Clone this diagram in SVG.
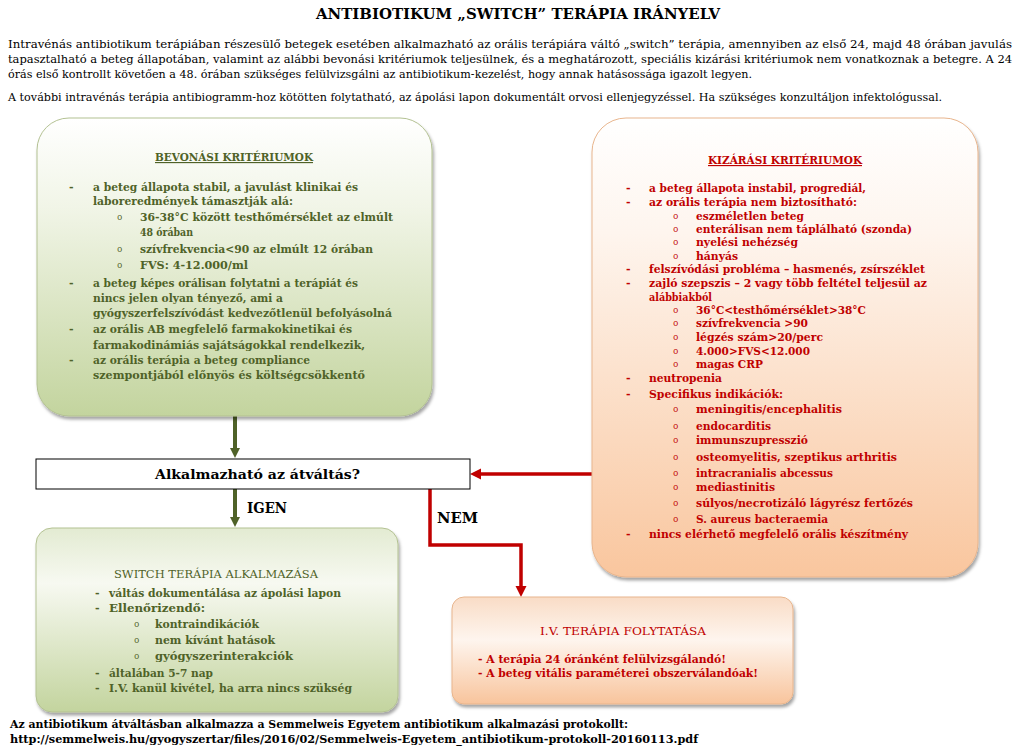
<svg xmlns="http://www.w3.org/2000/svg" width="1024" height="746" viewBox="0 0 1024 746">
<style>
text{font-family:"DejaVu Serif","Liberation Serif",serif;}
.title{font-size:15px;font-weight:bold;fill:#000;}
.intro{font-size:10.8px;fill:#000;}
.g{font-size:11px;font-weight:bold;fill:#4f6228;}
.r{font-size:11px;font-weight:bold;fill:#c00000;}
.gh{font-size:11.5px;font-weight:bold;fill:#4f6228;text-decoration:underline;}
.rh{font-size:11.5px;font-weight:bold;fill:#c00000;text-decoration:underline;}
.gt{font-size:11.5px;fill:#4f6228;}
.rt{font-size:11.5px;fill:#c00000;}
.bo{font-family:"Liberation Mono","DejaVu Sans Mono",monospace;font-size:9px;font-weight:normal;}
.q{font-size:13px;font-weight:bold;fill:#000;}
.lbl{font-size:14px;font-weight:bold;fill:#000;}
.foot{font-size:10.8px;font-weight:bold;fill:#000;}
.gbox{fill:url(#gGrad);stroke:#b3c192;stroke-width:1;filter:url(#sh);}
.pbox{fill:url(#pGrad);stroke:#e8b58d;stroke-width:1;filter:url(#sh);}
.gbox2{fill:url(#gGrad2);stroke:#b3c192;stroke-width:1;filter:url(#sh);}
.pbox2{fill:url(#pGrad2);stroke:#e8b58d;stroke-width:1;filter:url(#sh);}
.garrow{stroke:#4f6228;stroke-width:4;fill:none;marker-end:url(#mg);}
.rarrow{stroke:#c00000;stroke-width:3.5;fill:none;marker-end:url(#mr);}
</style>
<defs>
<linearGradient id="gGrad" x1="0" y1="0" x2="0" y2="1">
<stop offset="0" stop-color="#ffffff"/>
<stop offset="0.3" stop-color="#f1f5e7"/>
<stop offset="1" stop-color="#c3d49e"/>
</linearGradient>
<linearGradient id="pGrad" x1="0" y1="0" x2="0" y2="1">
<stop offset="0" stop-color="#ffffff"/>
<stop offset="0.25" stop-color="#fef5ee"/>
<stop offset="1" stop-color="#f9c69e"/>
</linearGradient>
<linearGradient id="gGrad2" x1="0" y1="0" x2="0" y2="1">
<stop offset="0" stop-color="#e3ebd2"/>
<stop offset="0.3" stop-color="#f7f9f1"/>
<stop offset="1" stop-color="#c3d49e"/>
</linearGradient>
<linearGradient id="pGrad2" x1="0" y1="0" x2="0" y2="1">
<stop offset="0" stop-color="#f9dcc6"/>
<stop offset="0.4" stop-color="#fef5ee"/>
<stop offset="1" stop-color="#f8c49c"/>
</linearGradient>
<filter id="sh" x="-10%" y="-10%" width="125%" height="130%">
<feDropShadow dx="1.5" dy="3" stdDeviation="1.5" flood-color="#000" flood-opacity="0.35"/>
</filter>
<marker id="mg" viewBox="0 0 10 10" refX="0" refY="5" markerUnits="userSpaceOnUse" markerWidth="10" markerHeight="12" orient="auto">
<path d="M0,0 L10,5 L0,10 z" fill="#4f6228"/>
</marker>
<marker id="mr" viewBox="0 0 10 10" refX="0" refY="5" markerUnits="userSpaceOnUse" markerWidth="11" markerHeight="12" orient="auto">
<path d="M0,0 L10,5 L0,10 z" fill="#c00000"/>
</marker>
</defs>
<rect width="1024" height="746" fill="#ffffff"/>

<g id="header">
<text class="title" x="316" y="19" textLength="404" lengthAdjust="spacingAndGlyphs">ANTIBIOTIKUM „SWITCH” TERÁPIA IRÁNYELV</text>
<text class="intro" x="8" y="48" textLength="1004" lengthAdjust="spacingAndGlyphs">Intravénás antibiotikum terápiában részesülő betegek esetében alkalmazható az orális terápiára váltó „switch” terápia, amennyiben az első 24, majd 48 órában javulás</text>
<text class="intro" x="8" y="63" textLength="1004" lengthAdjust="spacingAndGlyphs">tapasztalható a beteg állapotában, valamint az alábbi bevonási kritériumok teljesülnek, és a meghatározott, speciális kizárási kritériumok nem vonatkoznak a betegre. A 24</text>
<text class="intro" x="8" y="78" textLength="744" lengthAdjust="spacingAndGlyphs">órás első kontrollt követően a 48. órában szükséges felülvizsgálni az antibiotikum-kezelést, hogy annak hatásossága igazolt legyen.</text>
<text class="intro" x="8" y="101" textLength="934" lengthAdjust="spacingAndGlyphs">A további intravénás terápia antibiogramm-hoz kötötten folytatható, az ápolási lapon dokumentált orvosi ellenjegyzéssel. Ha szükséges konzultáljon infektológussal.</text>
</g>

<g id="connectors">
<path class="garrow" d="M235,416 V448"/>
<path class="garrow" d="M235,489 V517"/>
<path class="rarrow" d="M592,474 H481"/>
<path class="rarrow" d="M430,489 V545 H521 V586"/>
<text class="lbl" x="247" y="513" textLength="40" lengthAdjust="spacingAndGlyphs">IGEN</text>
<text class="lbl" x="437" y="523" textLength="41" lengthAdjust="spacingAndGlyphs">NEM</text>
</g>

<g id="bevonasi">
<rect class="gbox" x="37" y="118" width="395" height="298" rx="32" ry="32"/>
<text class="gh" x="155" y="161" textLength="158" lengthAdjust="spacingAndGlyphs">BEVONÁSI KRITÉRIUMOK</text>
<g class="g">
<text x="69" y="191">-</text>
<text x="93" y="191" textLength="265" lengthAdjust="spacingAndGlyphs">a beteg állapota stabil, a javulást klinikai és</text>
<text x="93" y="205" textLength="200" lengthAdjust="spacingAndGlyphs">laboreredmények támasztják alá:</text>
<text class="bo" x="117" y="220">o</text>
<text x="140" y="221" textLength="253" lengthAdjust="spacingAndGlyphs">36-38°C között testhőmérséklet az elmúlt</text>
<text x="140" y="236" textLength="53" lengthAdjust="spacingAndGlyphs">48 órában</text>
<text class="bo" x="117" y="252">o</text>
<text x="140" y="253" textLength="233" lengthAdjust="spacingAndGlyphs">szívfrekvencia&lt;90 az elmúlt 12 órában</text>
<text class="bo" x="117" y="268">o</text>
<text x="140" y="269" textLength="108" lengthAdjust="spacingAndGlyphs">FVS: 4-12.000/ml</text>
<text x="69" y="287">-</text>
<text x="93" y="287" textLength="265" lengthAdjust="spacingAndGlyphs">a beteg képes orálisan folytatni a terápiát és</text>
<text x="93" y="302" textLength="190" lengthAdjust="spacingAndGlyphs">nincs jelen olyan tényező, ami a</text>
<text x="93" y="317" textLength="299" lengthAdjust="spacingAndGlyphs">gyógyszerfelszívódást kedvezőtlenül befolyásolná</text>
<text x="69" y="333">-</text>
<text x="93" y="333" textLength="259" lengthAdjust="spacingAndGlyphs">az orális AB megfelelő farmakokinetikai és</text>
<text x="93" y="349" textLength="272" lengthAdjust="spacingAndGlyphs">farmakodinámiás sajátságokkal rendelkezik,</text>
<text x="69" y="364">-</text>
<text x="93" y="364" textLength="217" lengthAdjust="spacingAndGlyphs">az orális terápia a beteg compliance</text>
<text x="93" y="379" textLength="272" lengthAdjust="spacingAndGlyphs">szempontjából előnyös és költségcsökkentő</text>
</g>
</g>

<g id="kizarasi">
<rect class="pbox" x="592" y="118" width="386" height="459" rx="34" ry="34"/>
<text class="rh" x="708" y="164" textLength="154" lengthAdjust="spacingAndGlyphs">KIZÁRÁSI KRITÉRIUMOK</text>
<g class="r">
<text x="626" y="192">-</text>
<text x="649" y="192" textLength="217" lengthAdjust="spacingAndGlyphs">a beteg állapota instabil, progrediál,</text>
<text x="626" y="206">-</text>
<text x="649" y="206" textLength="208" lengthAdjust="spacingAndGlyphs">az orális terápia nem biztosítható:</text>
<text class="bo" x="673" y="219">o</text>
<text x="696" y="220" textLength="108" lengthAdjust="spacingAndGlyphs">eszméletlen beteg</text>
<text class="bo" x="673" y="232">o</text>
<text x="696" y="233" textLength="216" lengthAdjust="spacingAndGlyphs">enterálisan nem táplálható (szonda)</text>
<text class="bo" x="673" y="245">o</text>
<text x="696" y="246" textLength="102" lengthAdjust="spacingAndGlyphs">nyelési nehézség</text>
<text class="bo" x="673" y="259">o</text>
<text x="696" y="260" textLength="42" lengthAdjust="spacingAndGlyphs">hányás</text>
<text x="626" y="273">-</text>
<text x="649" y="273" textLength="276" lengthAdjust="spacingAndGlyphs">felszívódási probléma – hasmenés, zsírszéklet</text>
<text x="626" y="287">-</text>
<text x="649" y="287" textLength="278" lengthAdjust="spacingAndGlyphs">zajló szepszis – 2 vagy több feltétel teljesül az</text>
<text x="649" y="301" textLength="63" lengthAdjust="spacingAndGlyphs">alábbiakból</text>
<text class="bo" x="673" y="313">o</text>
<text x="696" y="314" textLength="170" lengthAdjust="spacingAndGlyphs">36°C&lt;testhőmérséklet&gt;38°C</text>
<text class="bo" x="673" y="326">o</text>
<text x="696" y="327" textLength="112" lengthAdjust="spacingAndGlyphs">szívfrekvencia &gt;90</text>
<text class="bo" x="673" y="340">o</text>
<text x="696" y="341" textLength="127" lengthAdjust="spacingAndGlyphs">légzés szám&gt;20/perc</text>
<text class="bo" x="673" y="354">o</text>
<text x="696" y="355" textLength="114" lengthAdjust="spacingAndGlyphs">4.000&gt;FVS&lt;12.000</text>
<text class="bo" x="673" y="367">o</text>
<text x="696" y="368" textLength="67" lengthAdjust="spacingAndGlyphs">magas CRP</text>
<text x="626" y="382">-</text>
<text x="649" y="382" textLength="73" lengthAdjust="spacingAndGlyphs">neutropenia</text>
<text x="626" y="398">-</text>
<text x="649" y="398" textLength="134" lengthAdjust="spacingAndGlyphs">Specifikus indikációk:</text>
<text class="bo" x="673" y="412">o</text>
<text x="696" y="413" textLength="146" lengthAdjust="spacingAndGlyphs">meningitis/encephalitis</text>
<text class="bo" x="673" y="429">o</text>
<text x="696" y="430" textLength="75" lengthAdjust="spacingAndGlyphs">endocarditis</text>
<text class="bo" x="673" y="443">o</text>
<text x="696" y="444" textLength="112" lengthAdjust="spacingAndGlyphs">immunszupresszió</text>
<text class="bo" x="673" y="460">o</text>
<text x="696" y="461" textLength="201" lengthAdjust="spacingAndGlyphs">osteomyelitis, szeptikus arthritis</text>
<text class="bo" x="673" y="476">o</text>
<text x="696" y="477" textLength="137" lengthAdjust="spacingAndGlyphs">intracranialis abcessus</text>
<text class="bo" x="673" y="490">o</text>
<text x="696" y="491" textLength="79" lengthAdjust="spacingAndGlyphs">mediastinitis</text>
<text class="bo" x="673" y="506">o</text>
<text x="696" y="507" textLength="217" lengthAdjust="spacingAndGlyphs">súlyos/necrotizáló lágyrész fertőzés</text>
<text class="bo" x="673" y="522">o</text>
<text x="696" y="523" textLength="132" lengthAdjust="spacingAndGlyphs">S. aureus bacteraemia</text>
<text x="626" y="538">-</text>
<text x="649" y="538" textLength="259" lengthAdjust="spacingAndGlyphs">nincs elérhető megfelelő orális készítmény</text>
</g>
</g>

<g id="dontes">
<rect x="36" y="459" width="434" height="30" fill="#ffffff" stroke="#000" stroke-width="1"/>
<text class="q" x="155" y="479" textLength="205" lengthAdjust="spacingAndGlyphs">Alkalmazható az átváltás?</text>
</g>

<g id="switch">
<rect class="gbox2" x="36" y="528" width="362" height="184" rx="16" ry="16"/>
<text class="gt" x="114" y="578" textLength="204" lengthAdjust="spacingAndGlyphs">SWITCH TERÁPIA ALKALMAZÁSA</text>
<g class="g">
<text x="95" y="597">-</text>
<text x="109" y="597" textLength="232" lengthAdjust="spacingAndGlyphs">váltás dokumentálása az ápolási lapon</text>
<text x="95" y="612">-</text>
<text x="109" y="612" textLength="96" lengthAdjust="spacingAndGlyphs">Ellenőrizendő:</text>
<text class="bo" x="134" y="627">o</text>
<text x="155" y="628" textLength="104" lengthAdjust="spacingAndGlyphs">kontraindikációk</text>
<text class="bo" x="134" y="643">o</text>
<text x="155" y="644" textLength="120" lengthAdjust="spacingAndGlyphs">nem kívánt hatások</text>
<text class="bo" x="134" y="659">o</text>
<text x="155" y="660" textLength="138" lengthAdjust="spacingAndGlyphs">gyógyszerinterakciók</text>
<text x="95" y="677">-</text>
<text x="109" y="677" textLength="104" lengthAdjust="spacingAndGlyphs">általában 5-7 nap</text>
<text x="95" y="692">-</text>
<text x="109" y="692" textLength="243" lengthAdjust="spacingAndGlyphs">I.V. kanül kivétel, ha arra nincs szükség</text>
</g>
</g>

<g id="iv">
<rect class="pbox2" x="452" y="597" width="341" height="107" rx="12" ry="12"/>
<text class="rt" x="540" y="635" textLength="166" lengthAdjust="spacingAndGlyphs">I.V. TERÁPIA FOLYTATÁSA</text>
<text class="r" x="478" y="663" textLength="248" lengthAdjust="spacingAndGlyphs">- A terápia 24 óránként felülvizsgálandó!</text>
<text class="r" x="478" y="677" textLength="280" lengthAdjust="spacingAndGlyphs">- A beteg vitális paraméterei obszerválandóak!</text>
</g>

<g id="footer">
<text class="foot" x="10" y="728" textLength="618" lengthAdjust="spacingAndGlyphs">Az antibiotikum átváltásban alkalmazza a Semmelweis Egyetem antibiotikum alkalmazási protokollt:</text>
<text class="foot" x="10" y="743" textLength="688" lengthAdjust="spacingAndGlyphs">http://semmelweis.hu/gyogyszertar/files/2016/02/Semmelweis-Egyetem_antibiotikum-protokoll-20160113.pdf</text>
</g>
</svg>
